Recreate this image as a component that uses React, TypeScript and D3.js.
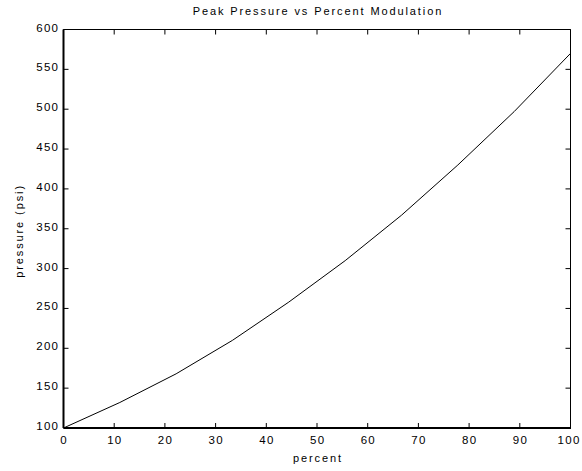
import React from "react";
import * as d3 from "d3";

const percent = [0, 11.11, 22.22, 33.33, 44.44, 55.56, 66.67, 77.78, 88.89, 100];
const pressure = [100, 132, 168, 210, 258, 310, 367, 430, 497, 570];
const xTicks = [0, 10, 20, 30, 40, 50, 60, 70, 80, 90, 100];
const yTicks = [100, 150, 200, 250, 300, 350, 400, 450, 500, 550, 600];

const W = 582, H = 471;
const L = 63.5, R = 570.5, T = 29.5, B = 428;

export default function App() {
  const x = d3.scaleLinear().domain([0, 100]).range([L, R]);
  const y = d3.scaleLinear().domain([100, 600]).range([B, T]);
  const line = d3.line<number>().x((_, i) => x(percent[i])).y((d) => y(d));
  const font = "Arial, 'Liberation Sans', Helvetica, sans-serif";
  const ls = 1.9;
  const tls = 1.3;
  return (
    <svg width={W} height={H} style={{ position: "absolute", left: 0, top: 0, background: "#fff" }}>
      <rect x={0} y={0} width={W} height={H} fill="#fff" />
      <text x={(L + R) / 2 + ls / 2} y={15} textAnchor="middle" fontFamily={font} fontSize={11} letterSpacing={ls} fill="#000">
        Peak Pressure vs Percent Modulation
      </text>
      <path d={line(pressure) || ""} fill="none" stroke="#000" strokeWidth={1} />
      {/* frame */}
      <line x1={L} x2={R} y1={T} y2={T} stroke="#000" strokeWidth={1} />
      <line x1={R} x2={R} y1={T} y2={B} stroke="#000" strokeWidth={1} />
      <line x1={L} x2={L} y1={T} y2={B} stroke="#000" strokeWidth={2} />
      <line x1={L} x2={R + 0.5} y1={B} y2={B} stroke="#000" strokeWidth={2} />
      {xTicks.map((t) => (
        <g key={"x" + t}>
          <line x1={x(t)} x2={x(t)} y1={B} y2={B - 5} stroke="#000" strokeWidth={1} />
          <line x1={x(t)} x2={x(t)} y1={T} y2={T + 5} stroke="#000" strokeWidth={1} />
          <text x={x(t) + tls / 2 - (t === 100 ? 2 : 0)} y={443.5} textAnchor="middle" fontFamily={font} fontSize={11.5} letterSpacing={tls} fill="#000">
            {t}
          </text>
        </g>
      ))}
      {yTicks.map((t) => (
        <g key={"y" + t}>
          <line x1={L} x2={L + 5} y1={y(t)} y2={y(t)} stroke="#000" strokeWidth={1} />
          <line x1={R} x2={R - 5} y1={y(t)} y2={y(t)} stroke="#000" strokeWidth={1} />
          <text x={58 + tls} y={y(t) + 2} textAnchor="end" fontFamily={font} fontSize={11.5} letterSpacing={tls} fill="#000">
            {t}
          </text>
        </g>
      ))}
      <text x={(L + R) / 2 + ls / 2} y={462} textAnchor="middle" fontFamily={font} fontSize={11} letterSpacing={ls} fill="#000">
        percent
      </text>
      <text
        transform={`translate(22.5,${230 + ls / 2}) rotate(-90)`}
        textAnchor="middle"
        fontFamily={font}
        fontSize={11}
        letterSpacing={ls}
        fill="#000"
      >
        pressure (psi)
      </text>
    </svg>
  );
}
